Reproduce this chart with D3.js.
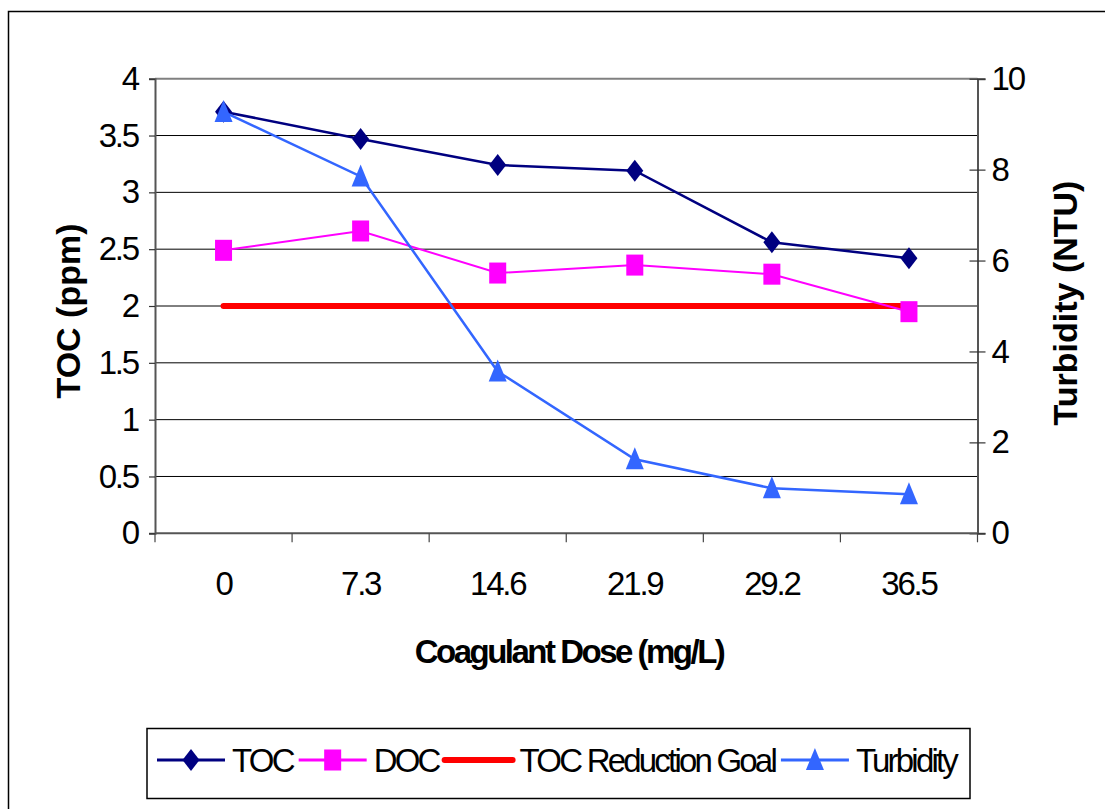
<!DOCTYPE html>
<html>
<head>
<meta charset="utf-8">
<script src="https://cdn.jsdelivr.net/npm/d3@7"></script>
<style>
  body { margin: 0; background: #fff; }
  text { font-family: "Liberation Sans", Arial, sans-serif; fill: #000; }
</style>
</head>
<body>
<svg id="chart" width="1105" height="809"></svg>
<script>
var doses = ["0", "7.3", "14.6", "21.9", "29.2", "36.5"];
var toc = [3.71, 3.47, 3.24, 3.19, 2.56, 2.42];
var doc = [2.49, 2.66, 2.29, 2.36, 2.28, 1.95];
var goal = [2, 2, 2, 2, 2, 2];
var turbidity = [9.27, 7.85, 3.56, 1.63, 0.99, 0.86];
var leftTicks = [0, 0.5, 1, 1.5, 2, 2.5, 3, 3.5, 4];
var rightTicks = [0, 2, 4, 6, 8, 10];
var legendNames = ["TOC", "DOC", "TOC Reduction Goal", "Turbidity"];

var svg = d3.select("#chart"),
  pLeft = 155, pRight = 977.5, pTop = 78.7, pBottom = 533.3;

var x = d3.scaleBand().domain(doses).range([pLeft, pRight]),
  yL = d3.scaleLinear().domain([0, 4]).range([pBottom, pTop]),
  yR = d3.scaleLinear().domain([0, 10]).range([pBottom, pTop]),
  cx = function(d, i){ return x(doses[i]) + x.bandwidth() / 2; };

// outer frame (runs off the right and bottom edge)
svg.append("rect").attr("x", 8.5).attr("y", 11.5).attr("width", 1300).attr("height", 1000)
  .attr("fill", "none").attr("stroke", "#000").attr("stroke-width", 1.5);

// gridlines
svg.append("g").selectAll("line")
  .data(leftTicks.filter(function(t){ return t > 0; }))
  .enter().append("line")
  .attr("x1", pLeft).attr("x2", pRight)
  .attr("y1", function(d){ return yL(d); }).attr("y2", function(d){ return yL(d); })
  .attr("stroke", function(d){ return d == 4 ? "#808080" : "#000"; })
  .attr("stroke-width", function(d){ return d == 4 ? 2 : 1; });

// left axis
var gL = svg.append("g").attr("transform", "translate(" + pLeft + ",0)")
  .call(d3.axisLeft(yL).tickValues(leftTicks).tickSize(6).tickPadding(11).tickFormat(d3.format("")));
// right axis
var gR = svg.append("g").attr("transform", "translate(" + pRight + ",0)")
  .call(d3.axisRight(yR).tickValues(rightTicks).tickSize(8).tickPadding(6));
gR.selectAll(".tick line").attr("x1", -8);
// bottom axis, ticks sit between categories
var gB = svg.append("g").attr("transform", "translate(0," + pBottom + ")")
  .call(d3.axisBottom(x).tickSize(0).tickPadding(42));
gB.selectAll(".tick-sep").data(d3.range(doses.length + 1)).enter().append("line")
  .attr("x1", function(d){ return pLeft + d * x.bandwidth(); })
  .attr("x2", function(d){ return pLeft + d * x.bandwidth(); })
  .attr("y1", 0).attr("y2", 9).attr("stroke", "#444").attr("stroke-width", 1.2);

[gL, gR, gB].forEach(function(g){
  g.select(".domain").attr("stroke", "#555").attr("stroke-width", 2);
  g.selectAll(".tick line").attr("stroke", "#333").attr("stroke-width", 1.2);
  g.selectAll("text").attr("font-size", 33).attr("letter-spacing", -2.2)
    .attr("font-family", "Liberation Sans, Arial, sans-serif").attr("fill", "#000");
});
gB.select(".domain").attr("d", "M" + pLeft + ",0H" + pRight);
gB.selectAll(".tick text").attr("dy", "0.71em").attr("y", 38);

// markers
function diamond(g){ g.append("path").attr("d", "M0,-11L8.5,0L0,11L-8.5,0Z"); }
function square(g){ g.append("rect").attr("x", -8.5).attr("y", -10.5).attr("width", 17).attr("height", 21); }
function triangle(g){ g.append("path").attr("d", "M0,-12L9,10L-9,10Z"); }

var series = [
  {vals: goal, y: yL, color: "#FF0000", width: 6, marker: null},
  {vals: toc, y: yL, color: "#000080", width: 2.5, marker: diamond},
  {vals: doc, y: yL, color: "#FF00FF", width: 2, marker: square},
  {vals: turbidity, y: yR, color: "#3366FF", width: 2.5, marker: triangle}
];

series.forEach(function(s){
  var line = d3.line().x(cx).y(function(d){ return s.y(d); });
  svg.append("path").attr("d", line(s.vals)).attr("fill", "none")
    .attr("stroke", s.color).attr("stroke-width", s.width)
    .attr("stroke-linecap", s.marker ? "butt" : "round");
  if (s.marker) {
    s.vals.forEach(function(v, i){
      var m = svg.append("g").attr("fill", s.color)
        .attr("transform", "translate(" + cx(v, i) + "," + s.y(v) + ")");
      s.marker(m);
    });
  }
});

// axis titles
svg.append("text").attr("transform", "translate(80,311) rotate(-90)")
  .attr("text-anchor", "middle").attr("font-size", 34).attr("font-weight", "bold").text("TOC (ppm)");
svg.append("text").attr("transform", "translate(1077,303) rotate(-90)")
  .attr("text-anchor", "middle").attr("font-size", 34).attr("font-weight", "bold").text("Turbidity (NTU)");
svg.append("text").attr("x", 569).attr("y", 663)
  .attr("text-anchor", "middle").attr("font-size", 33).attr("font-weight", "bold")
  .attr("letter-spacing", -2.5).text("Coagulant Dose (mg/L)");

// legend
svg.append("rect").attr("x", 147).attr("y", 728.5).attr("width", 823).attr("height", 70)
  .attr("fill", "#fff").attr("stroke", "#000").attr("stroke-width", 1.5);
var lx = 157, ly = 760;
series.slice(1, 3).concat([series[0], series[3]]).forEach(function(s, i){
  svg.append("line").attr("x1", lx).attr("x2", lx + 68).attr("y1", ly).attr("y2", ly)
    .attr("stroke", s.color).attr("stroke-width", s.marker ? 3 : 6)
    .attr("stroke-linecap", s.marker ? "butt" : "round");
  if (s.marker) {
    var m = svg.append("g").attr("fill", s.color).attr("transform", "translate(" + (lx + 34) + "," + ly + ")");
    s.marker(m);
  }
  var t = svg.append("text").attr("x", lx + 75).attr("y", ly + 12).attr("font-size", 33)
    .attr("letter-spacing", -2.8).text(legendNames[i]);
  lx += 75 + t.node().getComputedTextLength() + 6;
});
</script>
</body>
</html>
